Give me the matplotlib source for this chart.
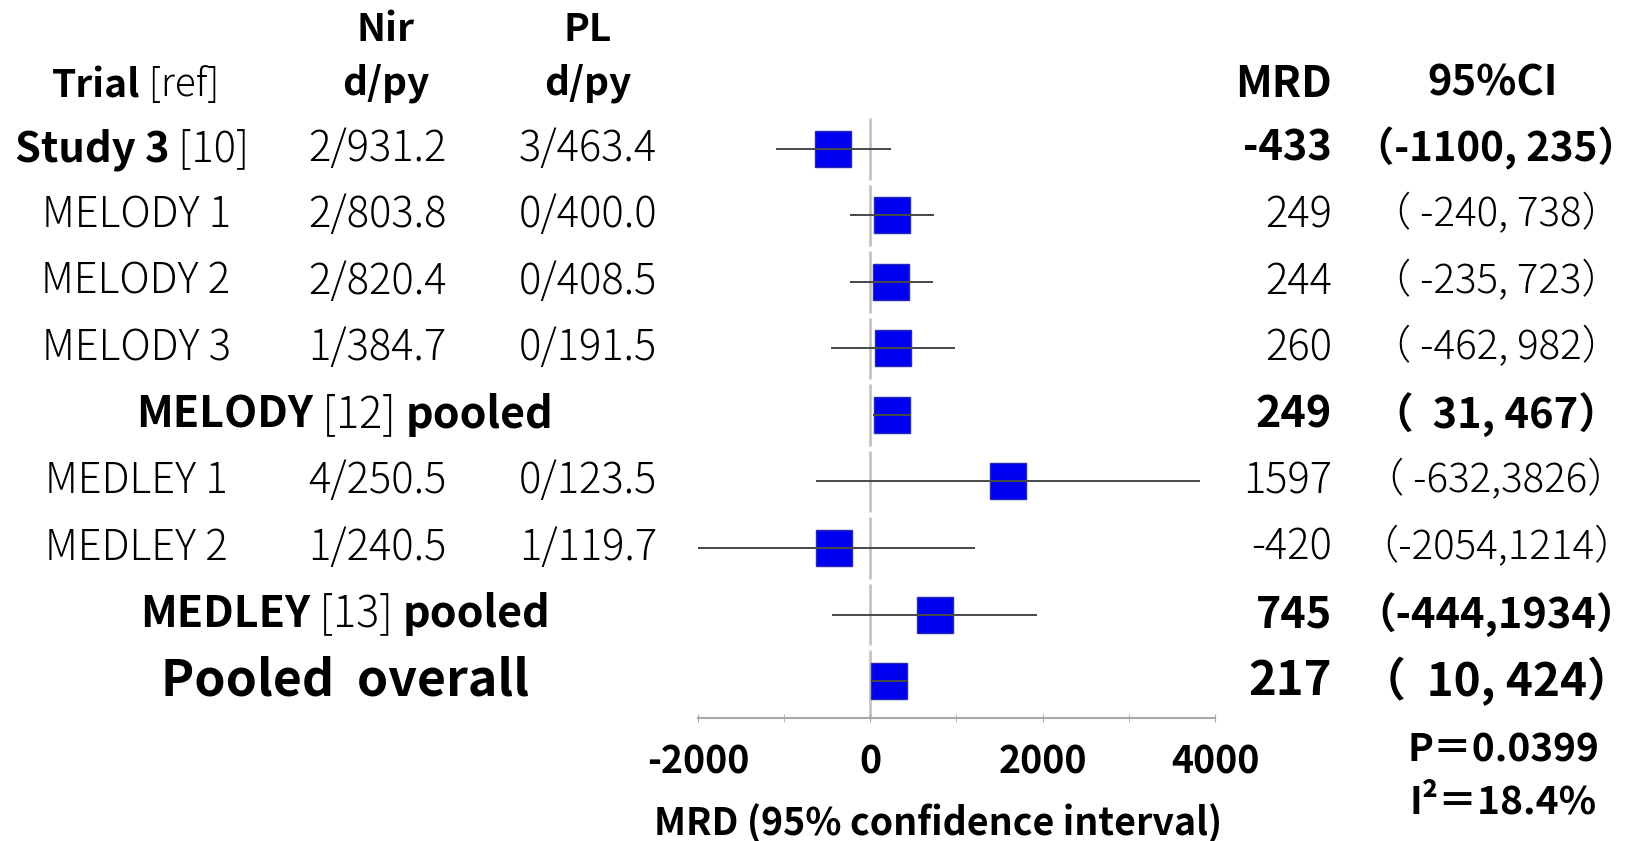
import matplotlib.pyplot as plt
from matplotlib import transforms
import numpy as np

plt.rcParams['font.family'] = ['Noto Sans CJK JP', 'DejaVu Sans']

names = ["Study 3", "MELODY 1", "MELODY 2", "MELODY 3", "MELODY",
         "MEDLEY 1", "MEDLEY 2", "MEDLEY", "Pooled  overall"]
refs = ["[10]", "", "", "", "[12]", "", "", "[13]", ""]
nir = ["2/931.2", "2/803.8", "2/820.4", "1/384.7", "",
       "4/250.5", "1/240.5", "", ""]
pl = ["3/463.4", "0/400.0", "0/408.5", "0/191.5", "",
      "0/123.5", "1/119.7", "", ""]
mrd = [-433, 249, 244, 260, 249, 1597, -420, 745, 217]
ci_lo = [-1100, -240, -235, -462, 31, -632, -2054, -444, 10]
ci_hi = [235, 738, 723, 982, 467, 3826, 1214, 1934, 424]
xticks = [-2000, 0, 2000, 4000]
p_text = "P＝0.0399"
i2_text = "I²＝18.4%"

W, H = 1637, 841
fig = plt.figure(figsize=(W / 100, H / 100), dpi=100)
ax = fig.add_axes([698 / W, (H - 718) / H, 517 / W, 609 / H])
rows = np.arange(len(names))
ax.set_xlim(-2000, 4000)
ax.set_ylim(8.556, -0.6)

# zero line, broken between rows
seg_top = rows - 0.46
seg_bot = rows + 0.46
seg_bot[-1] = 8.556
ax.vlines(np.zeros(len(rows)), seg_top, seg_bot, color='#c4c4c4', lw=2, zorder=1)

ax.plot(mrd, rows, 's', ms=26, mfc='#0000f0', mec='#2828b8', mew=1, zorder=2)
ax.hlines(rows, ci_lo, ci_hi, color='#484848', lw=1.4, zorder=3)

for s in ['top', 'left', 'right']:
    ax.spines[s].set_visible(False)
ax.spines['bottom'].set_color('#a8a8a8')
ax.spines['bottom'].set_linewidth(1.5)
ax.set_yticks([])
ax.set_xticks(xticks)
ax.set_xticks(np.arange(-2000, 4001, 1000), minor=True)
ax.set_xticklabels([str(t) for t in xticks], fontsize=27, fontweight='bold')
ax.tick_params(axis='x', which='both', direction='inout', length=6,
               color='#a8a8a8', pad=15)

tr = transforms.blended_transform_factory(fig.transFigure, ax.transData)
LIGHT = 300


def px(x):
    return x / W


def chain(y, parts, size, center):
    # parts: list of (text, weight); drawn side by side, then centred
    first = fig.text(0, y, parts[0][0], fontsize=size, fontweight=parts[0][1],
                     transform=tr, ha='left', va='bottom')
    prev = first
    items = [first]
    for s, w in parts[1:]:
        prev = ax.annotate(s, xy=(1, 0), xycoords=prev, fontsize=size,
                           fontweight=w, ha='left', va='bottom')
        items.append(prev)
    fig.canvas.draw()
    l = items[0].get_window_extent().x0
    r = items[-1].get_window_extent().x1
    first.set_x(px(center - (r - l) / 2))
    return items


# headers
for xc, top in [(386, "Nir"), (588, "PL")]:
    fig.text(px(xc), -1.8, top, fontsize=28, fontweight='bold', transform=tr,
             ha='center', va='center')
    fig.text(px(xc), -0.98, "d/py", fontsize=28, fontweight='bold', transform=tr,
             ha='center', va='center')
chain(-0.98 + 0.32, [("Trial", 'bold'), (" [ref]", LIGHT)], 28, center=136)
fig.text(px(1332), -0.98, "MRD", fontsize=31, fontweight='bold', transform=tr,
         ha='right', va='center')
fig.text(px(1493), -0.98, "95%CI", fontsize=30, fontweight='bold', transform=tr,
         ha='center', va='center')

bold_rows = [0, 4, 7, 8]
pooled_rows = [4, 7]
for i in rows:
    y = i
    if i == 0:
        chain(y + 0.33, [(names[i], 'bold'), (" " + refs[i], LIGHT)], 30, center=132)
    elif i in pooled_rows:
        chain(y + 0.33, [(names[i], 'bold'), (" " + refs[i] + " ", LIGHT),
                         ("pooled", 'bold')], 31, center=345)
    elif i == 8:
        fig.text(px(345), y, names[i], fontsize=36, fontweight='bold', transform=tr,
                 ha='center', va='center')
    else:
        fig.text(px(136), y, names[i], fontsize=30, fontweight=LIGHT, transform=tr,
                 ha='center', va='center')
    if nir[i]:
        fig.text(px(377), y, nir[i], fontsize=30, fontweight=LIGHT, transform=tr,
                 ha='center', va='center')
        fig.text(px(588), y, pl[i], fontsize=30, fontweight=LIGHT, transform=tr,
                 ha='center', va='center')
    if i == 8:
        size = 34
    elif i in pooled_rows:
        size = 31
    else:
        size = 30
    w = 'bold' if i in bold_rows else LIGHT
    lo_w = 4 if i in bold_rows else 5
    ci = "（" + f"{ci_lo[i]:>{lo_w}}" + "," + f"{ci_hi[i]:>4}" + "）"
    fig.text(px(1332), y, str(mrd[i]), fontsize=size, fontweight=w, transform=tr,
             ha='right', va='center')
    fig.text(px(1496), y, ci, fontsize=size - 1, fontweight=w, transform=tr,
             ha='center', va='center')

fig.text(px(1503), 1 - 750 / H, p_text, fontsize=28, fontweight='bold',
         ha='center', va='center')
fig.text(px(1503), 1 - 802 / H, i2_text, fontsize=28, fontweight='bold',
         ha='center', va='center')
fig.text(px(938), 1 - 823 / H, "MRD (95% confidence interval)", fontsize=27,
         fontweight='bold', ha='center', va='center')

fig.savefig("out.png", dpi=100)
